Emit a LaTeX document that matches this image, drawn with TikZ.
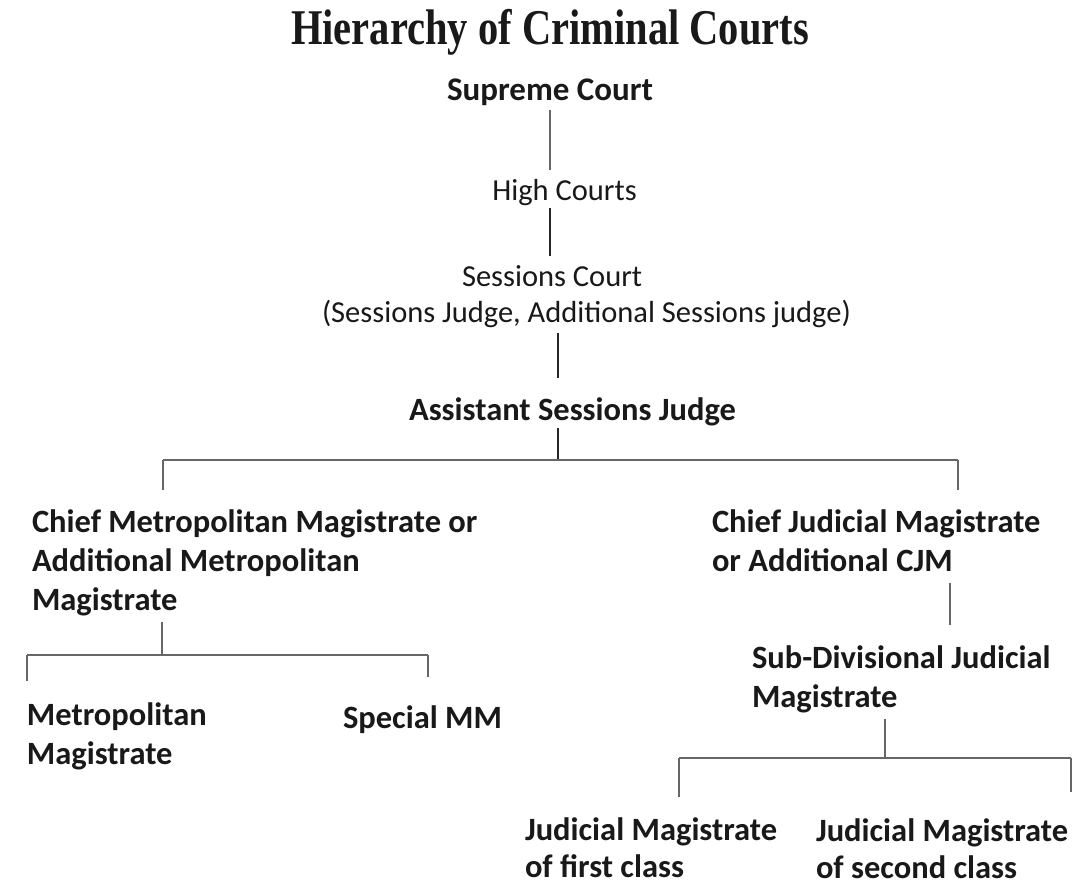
\documentclass[tikz,border=0pt]{standalone}
\usepackage{fontspec}
\setmainfont{Carlito}
\newfontfamily\titlefont{Liberation Serif}
\usepackage{graphicx}
\newcommand{\lines}[1]{\begin{tabular}[t]{@{}l@{}}#1\end{tabular}}
\begin{document}
\begin{tikzpicture}[x=1pt,y=-1pt,
  lbl/.style={inner sep=0pt, outer sep=0pt, text=black!90},
  reg/.style={lbl, font=\fontsize{30.5}{36}\selectfont},
  bld/.style={lbl, font=\bfseries\fontsize{32.5}{39}\selectfont},
  bldlow/.style={lbl, font=\bfseries\fontsize{32.5}{37}\selectfont},
  thinline/.style={draw=black!60, line width=1.6pt},
  thickline/.style={draw=black!85, line width=2.4pt}
]
\useasboundingbox[fill=white] (0,0) rectangle (1088,886);

\node[lbl, font=\titlefont\bfseries\fontsize{50}{60}\selectfont, anchor=base] (title) at (550,45) {\scalebox{0.81}[1]{Hierarchy of Criminal Courts}};

\node[lbl, font=\bfseries\fontsize{33}{39}\selectfont, anchor=base] (sup) at (550,100) {Supreme Court};
\node[reg, anchor=base] (high) at (564.5,200) {High Courts};
\node[reg, anchor=base west] (ses) at (322,286) {\lines{\hspace*{140pt}Sessions Court\\(Sessions Judge, Additional Sessions judge)}};
\node[bld, anchor=base] (asj) at (572.5,420) {Assistant Sessions Judge};

\node[bld, anchor=base west] (cmm) at (32,532) {\lines{Chief Metropolitan Magistrate or\\Additional Metropolitan\\Magistrate}};
\node[bld, anchor=base west] (cjm) at (712,532) {\lines{Chief Judicial Magistrate\\or Additional CJM}};
\node[bld, anchor=base west] (mm) at (27,725) {\lines{Metropolitan\\Magistrate}};
\node[bld, anchor=base west] (smm) at (343,728) {Special MM};
\node[bld, anchor=base west] (sdjm) at (752,668) {\lines{Sub-Divisional Judicial\\Magistrate}};
\node[bldlow, anchor=base west] (jm1) at (525,840) {\lines{Judicial Magistrate\\of first class}};
\node[bldlow, anchor=base west] (jm2) at (816,841) {\lines{Judicial Magistrate\\of second class}};

\coordinate (j0) at (558,460);
\coordinate (jl) at (163,460);
\coordinate (jr) at (958,460);
\coordinate (j1) at (162,655);
\coordinate (j1l) at (27,655);
\coordinate (j1r) at (428,655);
\coordinate (cj) at (950,625);
\coordinate (j3) at (885,758);
\coordinate (j3l) at (679,758);
\coordinate (j3r) at (1071,758);

\draw[thinline] ([yshift=-10pt]sup.base) -- ([yshift=30pt]high.base -| sup.base);
\draw[thickline] ([yshift=-8pt]high.base -| sup.base) -- ([yshift=30pt]ses.base -| sup.base);
\draw[thickline] (ses.south -| j0) -- ([yshift=42pt]asj.base -| j0);
\draw[thickline] ([yshift=-8pt]asj.base -| j0) -- (j0);
\draw[thinline] (jl) -- (jr);
\draw[thinline] (jl) -- ([yshift=42pt]cmm.base -| jl);
\draw[thinline] (jr) -- ([yshift=42pt]cjm.base -| jr);

\draw[thinline] (cmm.south -| j1) -- (j1);
\draw[thinline] (j1l) -- (j1r);
\draw[thinline] (j1l) -- ([yshift=44pt]mm.base -| j1l);
\draw[thinline] (j1r) -- ([yshift=51pt]smm.base -| j1r);

\draw[thinline] (cjm.south -| cj) -- (cj);
\draw[thinline] (sdjm.south -| j3) -- (j3);
\draw[thinline] (j3l) -- (j3r);
\draw[thinline] (j3l) -- ([yshift=43pt]jm1.base -| j3l);
\draw[thinline] (j3r) -- ([yshift=49pt]jm2.base -| j3r);
\end{tikzpicture}
\end{document}
